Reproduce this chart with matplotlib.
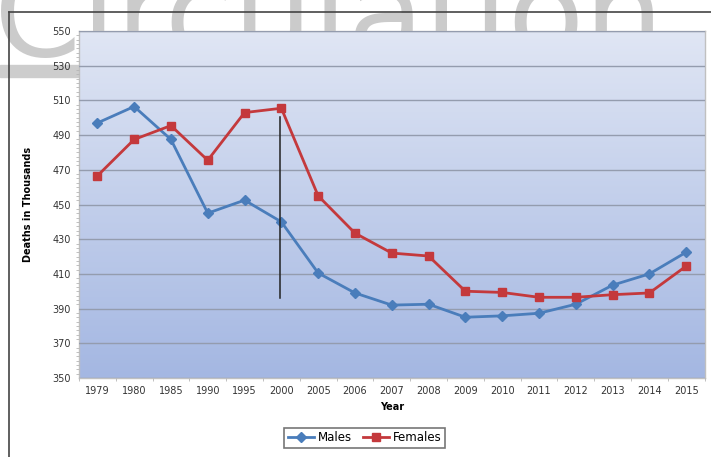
import numpy as np
import matplotlib.pyplot as plt
from matplotlib.colors import LinearSegmentedColormap
from matplotlib.patches import Rectangle

years = ['1979', '1980', '1985', '1990', '1995', '2000', '2005', '2006', '2007',
         '2008', '2009', '2010', '2011', '2012', '2013', '2014', '2015']
males = [497, 506.5, 487.5, 445, 452.5, 440, 410.5, 399, 392, 392.5,
         385, 385.8, 387.3, 392.5, 403.5, 410, 422.5]
females = [466.5, 487.5, 495.5, 475.5, 503, 505.5, 455, 433.5, 422, 420.3,
           400, 399.3, 396.5, 396.5, 398, 399, 414.5]
marker_year, marker_lo, marker_hi = '2000', 396, 500.5

fig = plt.figure(figsize=(7.11, 4.57), dpi=100)
fig.patch.set_facecolor('white')

# faint watermark behind the chart
wm = fig.text(-0.008, 0.878, 'Circulation', fontsize=90, color='#cbcbcb',
              ha='left', va='baseline', zorder=-5)
fig.patches.append(Rectangle((0, 1 - 77 / 457), 0.111, 12 / 457,
                             transform=fig.transFigure, color='#cdcdcd', zorder=-4))
# outer frame of the pasted chart
fig.add_artist(plt.Line2D([0.013, 1.0], [0.973, 0.973], color='#444444', lw=1.2,
                          transform=fig.transFigure, zorder=5))
fig.add_artist(plt.Line2D([0.013, 0.013], [0.0, 0.973], color='#444444', lw=1.2,
                          transform=fig.transFigure, zorder=5))

ax = fig.add_axes([0.111, 0.173, 0.880, 0.759])
ax.set_zorder(2)
x = np.arange(len(years))

cmap = LinearSegmentedColormap.from_list('bg', ['#a4b7e2', '#e0e6f4'])
ax.imshow(np.linspace(0, 1, 256).reshape(-1, 1), cmap=cmap, aspect='auto',
          extent=[-0.5, len(years) - 0.5, 350, 550], origin='lower', zorder=0)

ax.set_xlim(-0.5, len(years) - 0.5)
ax.set_ylim(350, 550)
ax.set_yticks(np.arange(350, 551, 20))
ax.grid(axis='y', color='#949cae', lw=1, zorder=1)
ax.set_axisbelow(False)

ax.plot(x, males, color='#4a7dbb', lw=2.0, marker='D', ms=5, zorder=3, label='Males')
ax.plot(x, females, color='#c4393c', lw=2.0, marker='s', ms=6, zorder=3, label='Females')
xi = years.index(marker_year) - 0.05
ax.plot([xi, xi], [marker_lo, marker_hi], color='#222222', lw=1.1, zorder=4)

ax.set_xticks(x)
ax.set_xticklabels(years)
ax.tick_params(axis='both', labelsize=7, colors='#333333', length=0, pad=6)
ax.set_xticks(np.arange(-0.5, len(years), 1), minor=True)
ax.set_yticks(np.arange(350, 551, 2.5), minor=True)
ax.tick_params(which='minor', length=2.5, color='#b5b5b5')
for s in ax.spines.values():
    s.set_color('#c0c0c0')
    s.set_linewidth(1)

ax.set_xlabel('Year', fontsize=7, fontweight='bold', labelpad=4)
ax.set_ylabel('Deaths in Thousands', fontsize=7, fontweight='bold', labelpad=14)

leg = fig.legend(loc='center', bbox_to_anchor=(0.513, 0.042), ncol=2, fontsize=8.5,
                 frameon=True, fancybox=False, edgecolor='#555555', handlelength=2.2,
                 columnspacing=1.0, handletextpad=0.3, borderpad=0.3)
leg.get_frame().set_linewidth(1.2)

fig.savefig('out.png', dpi=100)
